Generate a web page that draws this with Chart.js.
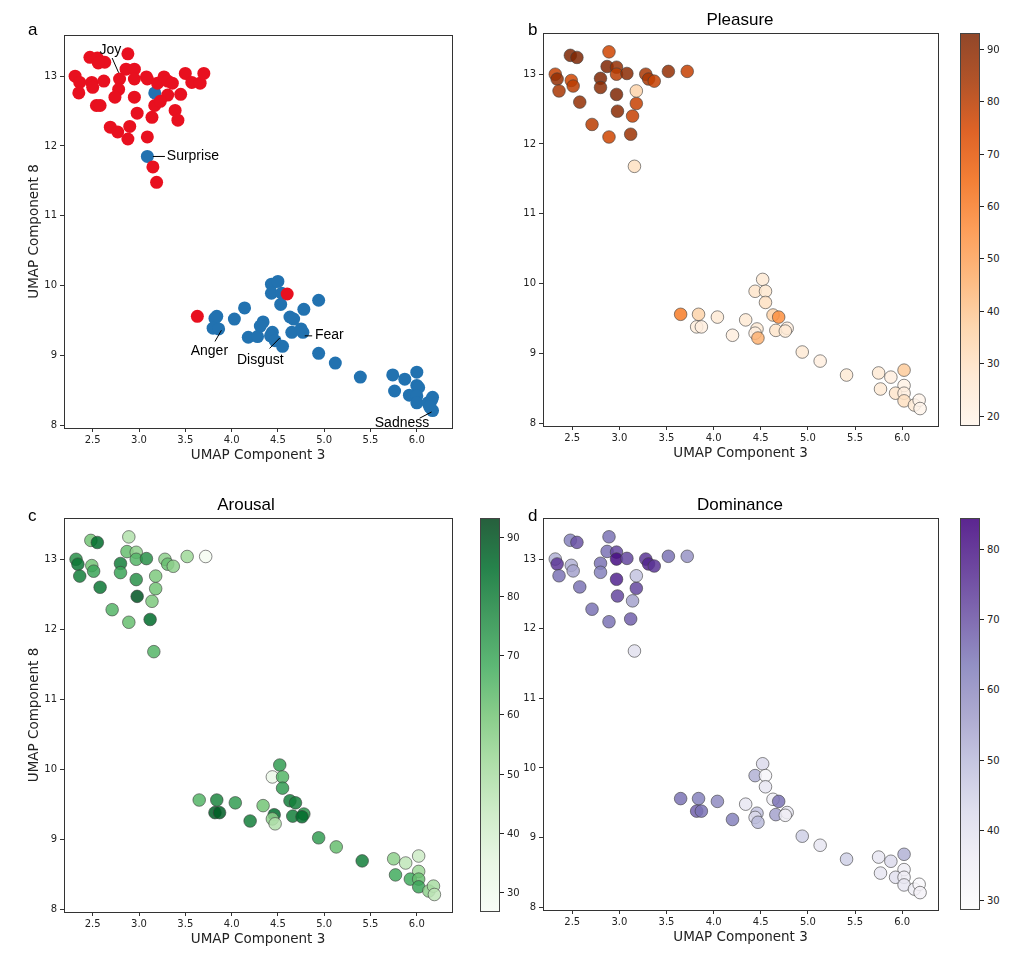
<!DOCTYPE html>
<html><head><meta charset="utf-8">
<script src="https://cdn.jsdelivr.net/npm/chart.js@4"></script>
<style>
body{margin:0;background:#fff;font-family:"DejaVu Sans",sans-serif;}
#wrap{position:relative;width:1020px;height:956px;}
canvas{position:absolute;}
.lbl{position:absolute;font-size:17px;color:#000;font-family:"Liberation Sans",Arial,sans-serif;}
.ttl{position:absolute;font-size:17px;color:#000;transform:translateX(-50%);font-family:"Liberation Sans",Arial,sans-serif;}
.cb{position:absolute;border:1px solid #444;box-sizing:border-box;}
.ct{position:absolute;font-size:10px;color:#222;transform:translateY(-50%);}
.ctk{position:absolute;width:4px;height:1px;background:#222;}
</style></head><body><div id="wrap">
<canvas id="ca"></canvas><canvas id="cb"></canvas><canvas id="cc"></canvas><canvas id="cd"></canvas>
</div>
<script>
// Panel a data
const aRedX=[2.47,2.55,2.63,2.56,2.88,2.86,2.95,2.31,2.36,2.35,2.49,2.50,2.62,2.79,2.78,2.74,2.95,2.95,3.08,3.09,3.20,3.27,3.31,3.36,3.31,3.17,3.23,3.45,3.50,3.57,3.66,3.70,2.54,2.58,2.98,3.14,3.39,3.42,2.69,2.77,2.90,2.88,3.09,3.15,3.19,4.60,3.63];
const aRedY=[13.27,13.26,13.20,13.19,13.32,13.10,13.10,13.00,12.91,12.76,12.91,12.84,12.93,12.96,12.81,12.70,12.96,12.70,12.99,12.96,12.90,12.99,12.93,12.90,12.73,12.58,12.64,12.74,13.04,12.91,12.90,13.04,12.58,12.58,12.47,12.41,12.51,12.37,12.27,12.20,12.28,12.10,12.13,11.70,11.48,9.88,9.56];
const aBlueX=[3.17,3.09,4.43,4.50,4.43,4.54,4.53,4.94,4.78,4.14,3.84,3.82,4.03,4.34,4.31,3.80,3.86,4.63,4.67,4.44,4.42,4.65,4.75,4.77,4.18,4.28,4.47,4.55,4.94,5.12,5.39,5.74,5.87,6.00,6.00,6.02,5.76,5.92,6.00,6.00,6.12,6.16,6.17,6.17,6.14];
const aBlueY=[12.76,11.85,10.02,10.06,9.89,9.89,9.73,9.79,9.66,9.68,9.56,9.53,9.52,9.48,9.42,9.39,9.38,9.55,9.52,9.33,9.28,9.33,9.38,9.33,9.26,9.27,9.21,9.13,9.03,8.89,8.69,8.72,8.66,8.76,8.57,8.54,8.49,8.43,8.42,8.32,8.32,8.36,8.40,8.21,8.26];
// emotion labels: text position and leader line (from -> to)
const emoNames=["Joy","Surprise","Anger","Disgust","Fear","Sadness"];
const emoTextX=[2.69,3.30,3.76,4.31,4.90,5.84];
const emoTextY=[13.38,11.85,9.06,8.93,9.29,8.03];
const emoAlign=["center","left","center","center","left","center"];
const emoLine=[[2.71,13.26,2.78,13.05],[3.15,11.85,3.28,11.85],[3.82,9.2,3.89,9.36],[4.41,9.1,4.52,9.25],[4.79,9.28,4.87,9.28],[6.03,8.1,6.16,8.19]];

// Panels b-d shared points
const ptX=[2.32,2.34,2.36,2.48,2.55,2.49,2.51,2.58,2.71,2.80,2.80,2.87,2.89,2.89,2.97,2.97,2.97,2.98,3.08,3.12,3.14,3.18,3.18,3.16,3.28,3.31,3.37,3.52,3.72,
 4.52,4.44,4.55,4.55,3.65,3.84,4.04,4.34,3.82,3.87,4.20,4.46,4.44,4.47,4.63,4.69,4.66,4.78,4.76,4.94,5.13,5.41,5.75,5.88,6.02,6.02,5.77,5.93,6.02,6.02,6.13,6.18,6.19];
const ptY=[13.00,12.93,12.76,13.27,13.24,12.91,12.83,12.60,12.28,12.94,12.81,13.11,13.32,12.10,13.10,13.00,12.71,12.47,13.01,12.14,12.40,12.58,12.76,11.68,13.00,12.93,12.90,13.04,13.04,
 10.06,9.89,9.89,9.73,9.56,9.56,9.52,9.48,9.38,9.38,9.26,9.35,9.29,9.22,9.55,9.52,9.33,9.36,9.32,9.02,8.89,8.69,8.72,8.66,8.76,8.54,8.49,8.43,8.43,8.32,8.26,8.33,8.21];
const pleasure=[78,88,83,93,93,76,80,88,80,93,90,93,76,76,88,80,93,90,90,86,78,78,35,30,83,83,78,88,78,
 25,28,27,30,60,35,25,25,23,22,22,25,22,45,35,55,28,22,25,25,22,25,25,22,38,20,25,28,22,30,25,18,18];
const arousal=[75,82,80,60,85,60,70,82,65,80,70,62,48,62,55,65,75,90,75,85,58,60,58,65,55,62,55,52,28,
 72,32,65,72,65,78,72,60,88,88,80,85,55,48,80,80,80,75,85,72,62,80,55,45,42,52,68,68,62,70,55,50,45];
const dominance=[52,75,65,62,70,52,55,65,65,65,62,65,65,65,72,82,78,72,72,68,55,72,48,40,75,78,75,65,58,
 42,52,32,38,65,62,60,38,68,65,62,48,42,50,35,65,55,38,35,45,38,45,38,42,52,35,38,40,35,38,35,30,33];
const xTicks=[2.5,3.0,3.5,4.0,4.5,5.0,5.5,6.0];
const yTicks=[8,9,10,11,12,13];
const pTicks=[20,30,40,50,60,70,80,90], aTicks=[30,40,50,60,70,80,90], dTicks=[30,40,50,60,70,80];
const pRange=[18,93], aRange=[26.6,93.2], dRange=[28.6,84.4];

const cmaps={
 Oranges:["#fff5eb","#fee6ce","#fdd0a2","#fdae6b","#fd8d3c","#f16913","#d94801","#a63603","#7f2704"],
 Greens:["#f7fcf5","#e5f5e0","#c7e9c0","#a1d99b","#74c476","#41ab5d","#238b45","#006d2c","#00441b"],
 Purples:["#fcfbfd","#efedf5","#dadaeb","#bcbddc","#9e9ac8","#807dba","#6a51a3","#54278f","#3f007d"]};
function hex(h){return [1,3,5].map(i=>parseInt(h.substr(i,2),16));}
function cmap(name,t,a){const s=cmaps[name];t=Math.max(0,Math.min(1,t));const f=t*(s.length-1);const i=Math.min(s.length-2,Math.floor(f));const u=f-i;
 const c0=hex(s[i]),c1=hex(s[i+1]);const c=c0.map((v,k)=>Math.round(v+(c1[k]-v)*u));return `rgba(${c[0]},${c[1]},${c[2]},${a})`;}

const boxPlugin={id:'box',afterDraw(ch){const a=ch.chartArea,c=ch.ctx;c.save();c.strokeStyle='#333';c.lineWidth=1;c.strokeRect(a.left+0.5,a.top+0.5,a.right-a.left,a.bottom-a.top);c.restore();}};
const labelPlugin={id:'emo',afterDatasetsDraw(ch){const c=ch.ctx,xs=ch.scales.x,ys=ch.scales.y;c.save();
 c.font='14px "Liberation Sans", Arial, sans-serif';c.fillStyle='#000';c.strokeStyle='#000';c.lineWidth=1;c.textBaseline='middle';
 emoNames.forEach((n,i)=>{const l=emoLine[i];c.beginPath();c.moveTo(xs.getPixelForValue(l[0]),ys.getPixelForValue(l[1]));c.lineTo(xs.getPixelForValue(l[2]),ys.getPixelForValue(l[3]));c.stroke();
  c.textAlign=emoAlign[i];c.fillText(n,xs.getPixelForValue(emoTextX[i]),ys.getPixelForValue(emoTextY[i]));});c.restore();}};

function mk(id,left,top,w,h,datasets,yTitle,extra){
 const cv=document.getElementById(id);cv.style.left=left+'px';cv.style.top=top+'px';cv.style.width=w+'px';cv.style.height=h+'px';
 return new Chart(cv,{type:'scatter',data:{datasets},plugins:[boxPlugin].concat(extra||[]),
 options:{responsive:false,animation:false,devicePixelRatio:1,layout:{padding:{top:10,right:10,left:0,bottom:0}},
 plugins:{legend:{display:false},tooltip:{enabled:false}},
 scales:{x:{type:'linear',min:2.19,max:6.38,afterBuildTicks(s){s.ticks=xTicks.map(v=>({value:v}));},afterFit(s){s.height=40;},
   grid:{drawOnChartArea:false,tickLength:4,color:'#333'},border:{color:'#333'},
   ticks:{font:{size:10,family:'DejaVu Sans'},color:'#222',padding:2,callback:v=>v.toFixed(1),maxRotation:0},
   title:{display:true,text:'UMAP Component 3',font:{size:13.5,family:'DejaVu Sans'},color:'#222',padding:{top:0}}},
  y:{type:'linear',min:7.96,max:13.59,afterBuildTicks(s){s.ticks=yTicks.map(v=>({value:v}));},afterFit(s){s.width=42;},
   grid:{drawOnChartArea:false,tickLength:4,color:'#333'},border:{color:'#333'},
   ticks:{font:{size:10,family:'DejaVu Sans'},color:'#222',padding:3},
   title:{display:!!yTitle,text:'UMAP Component 8',font:{size:13.5,family:'DejaVu Sans'},color:'#222',padding:{bottom:2}}}}}});
}
function pts(xs,ys){return xs.map((x,i)=>({x,y:ys[i]}));}
function colored(vals,name,range){return [{data:pts(ptX,ptY),pointRadius:6.3,borderWidth:0.8,borderColor:'rgba(60,60,60,0.75)',
 backgroundColor:vals.map(v=>cmap(name,(v-range[0])/(range[1]-range[0]),0.85))}];}

mk('ca',22,25,440,443,[
 {data:pts(aRedX,aRedY),pointRadius:6.5,borderWidth:0,backgroundColor:'#e8101f'},
 {data:pts(aBlueX,aBlueY),pointRadius:6.5,borderWidth:0,backgroundColor:'#2272b0'}],true,[labelPlugin]);
mk('cb',501,23,447,443,colored(pleasure,'Oranges',pRange),false);
mk('cc',22,508,440,444,colored(arousal,'Greens',aRange),true);
mk('cd',501,508,447,442,colored(dominance,'Purples',dRange),false);

const wrap=document.getElementById('wrap');
function add(cls,txt,x,y){const d=document.createElement('div');d.className=cls;d.textContent=txt;d.style.left=x+'px';d.style.top=y+'px';wrap.appendChild(d);return d;}
add('lbl','a',28,20);add('lbl','b',528,20);add('lbl','c',28,506);add('lbl','d',528,506);
add('ttl','Pleasure',740,10);add('ttl','Arousal',246,495);add('ttl','Dominance',740,495);
function colorbar(x,top,bottom,name,range,ticks){
 const s=cmaps[name];const d=document.createElement('div');d.className='cb';d.style.left=x+'px';d.style.top=top+'px';d.style.width='20px';d.style.height=(bottom-top)+'px';
 d.style.background='linear-gradient(to top,'+s.map(c=>{const v=hex(c);return `rgba(${v[0]},${v[1]},${v[2]},0.85)`;}).join(',')+')';wrap.appendChild(d);
 ticks.forEach(t=>{const y=bottom-(t-range[0])/(range[1]-range[0])*(bottom-top);
  const k=document.createElement('div');k.className='ctk';k.style.left=(x+20)+'px';k.style.top=y+'px';wrap.appendChild(k);
  add('ct',String(t),x+27,y);});
}
colorbar(960,33,426,'Oranges',pRange,pTicks);
colorbar(480,518,912,'Greens',aRange,aTicks);
colorbar(960,518,910,'Purples',dRange,dTicks);
</script></body></html>
